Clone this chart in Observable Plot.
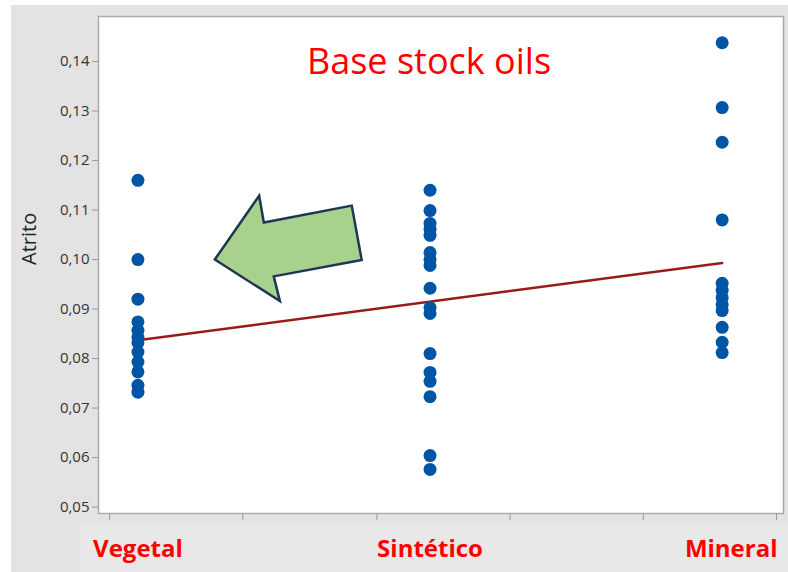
<!DOCTYPE html>
<html>
<head>
<meta charset="utf-8">
<script src="https://cdn.jsdelivr.net/npm/d3@7"></script>
<script src="https://cdn.jsdelivr.net/npm/@observablehq/plot@0.6"></script>
<style>
  html, body { margin: 0; padding: 0; background: #ffffff; }
  #wrap { position: relative; width: 788px; height: 572px; overflow: hidden; }
  #bg { position: absolute; left: 11px; top: 5px; right: 0; bottom: 0; background: #e3e3e3; }
  #labbox { position: absolute; left: 80px; top: 523px; right: 0; bottom: 0; background: #e8e8e8; }
  #chart { position: absolute; left: 0; top: 0; }
</style>
</head>
<body>
<div id="wrap">
  <div id="bg"></div>
  <div id="labbox"></div>
  <div id="chart"></div>
</div>
<script>
// ---- data ----
const categories = ["Vegetal", "Sintético", "Mineral"];
const vegetal   = [0.116, 0.100, 0.092, 0.0874, 0.0857, 0.0843, 0.0832, 0.0813, 0.0793, 0.0773, 0.0746, 0.0732];
const sintetico = [0.1140, 0.1099, 0.1073, 0.1061, 0.1049, 0.1014, 0.1000, 0.0988, 0.0942, 0.0903, 0.0891, 0.0810, 0.0772, 0.0754, 0.0723, 0.0604, 0.0576];
const mineral   = [0.1438, 0.1307, 0.1237, 0.1080, 0.0952, 0.0938, 0.0923, 0.0909, 0.0897, 0.0863, 0.0833, 0.0812];
const fitPos    = [1, 3];
const fitValues = [0.0837, 0.0993];
const yTicks    = [0.05, 0.06, 0.07, 0.08, 0.09, 0.10, 0.11, 0.12, 0.13, 0.14];
const xTicks    = [0.903, 1.359, 1.818, 2.274, 2.730, 3.186];
const yLabel    = "Atrito";
const title     = "Base stock oils";
// annotation arrow outline (x in category units, y in Atrito units)
const arrowX = [1.263, 1.415, 1.431, 1.732, 1.766, 1.465, 1.486, 1.263];
const arrowY = [0.1000, 0.1129, 0.1075, 0.1109, 0.0999, 0.0966, 0.0916, 0.1000];

// ---- tables built from the arrays ----
const groups = [vegetal, sintetico, mineral];
const points = groups.flatMap((vals, i) => vals.map(v => ({pos: i + 1, cat: categories[i], value: v})));
const fit = fitPos.map((p, i) => ({pos: p, value: fitValues[i]}));
const arrow = arrowX.map((x, i) => ({x, y: arrowY[i]}));
const catTable = categories.map((c, i) => ({pos: i + 1, name: c}));
const lastCat = catTable.length - 1;

const chart = Plot.plot({
  width: 788,
  height: 572,
  marginLeft: 98,
  marginRight: 5,
  marginTop: 16,
  marginBottom: 59,
  style: {fontFamily: "'Open Sans', sans-serif", fontSize: "15px", background: "transparent", color: "#333"},
  x: {type: "linear", domain: [0.865, 3.21]},
  y: {domain: [0.0487, 0.1491]},
  marks: [
    Plot.frame({fill: "white", stroke: "#ababab", strokeWidth: 1.5}),
    Plot.axisY({ticks: yTicks, tickSize: 6, tickPadding: 3, stroke: "#999", fill: "#333",
      tickFormat: d => d.toFixed(2).replace(".", ","), label: null, fontSize: 15}),
    Plot.axisX({ticks: xTicks, tickSize: 7, tickFormat: () => "", stroke: "#999", label: null}),
    Plot.text([yLabel], {frameAnchor: "left", rotate: -90, dx: -69, fontSize: 20, fill: "#222"}),
    Plot.text([title], {frameAnchor: "top", dx: -12, dy: 46, lineAnchor: "middle", fontSize: 36, fill: "#ff0000"}),
    Plot.line(arrow, {x: "x", y: "y", fill: "#a9d18e", stroke: "#1f3554", strokeWidth: 2.5,
      strokeLinejoin: "miter", strokeMiterlimit: 10}),
    Plot.line(fit, {x: "pos", y: "value", stroke: "#9a1a1a", strokeWidth: 2.5}),
    Plot.dot(points, {x: "pos", y: "value", r: 6.5, fill: "#0055a5", stroke: "none"}),
    Plot.text(catTable.slice(0, lastCat), {x: "pos", text: "name", frameAnchor: "bottom", dy: 36, lineAnchor: "middle",
      fontSize: 24, fontWeight: "bold", fill: "#ff0000"}),
    Plot.text(catTable.slice(lastCat), {text: "name", frameAnchor: "bottom-right", dx: -6, dy: 36, lineAnchor: "middle",
      textAnchor: "end", fontSize: 24, fontWeight: "bold", fill: "#ff0000"})
  ]
});
document.getElementById("chart").appendChild(chart);
</script>
</body>
</html>
